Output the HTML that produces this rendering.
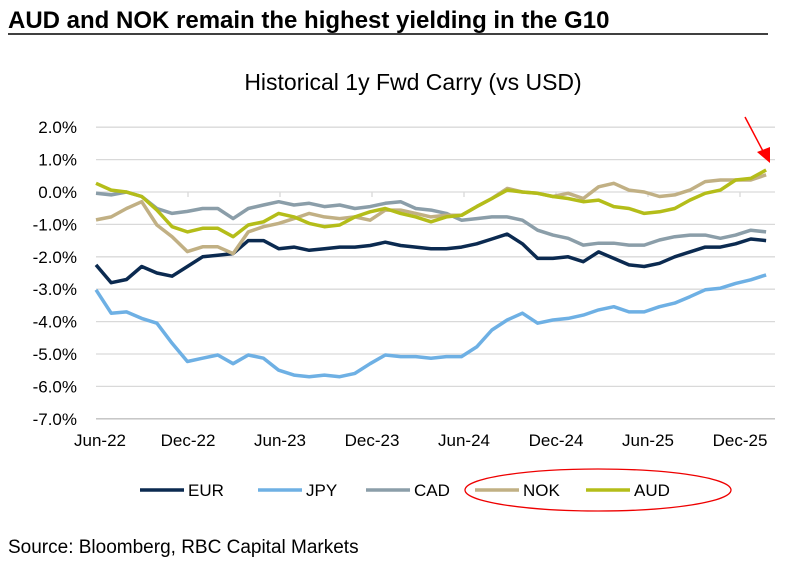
<!DOCTYPE html>
<html><head><meta charset="utf-8"><style>
body{margin:0;background:#fff;width:790px;height:571px;overflow:hidden;font-family:"Liberation Sans",Arial,sans-serif}
</style></head><body>
<svg width="790" height="571" xmlns="http://www.w3.org/2000/svg" id="svg" font-family="Liberation Sans, Arial, sans-serif">
<text x="8" y="28" font-size="24" font-weight="bold" fill="#000">AUD and NOK remain the highest yielding in the G10</text>
<line x1="8" y1="34" x2="768" y2="34" stroke="#000" stroke-width="1.5"/>
<text x="413" y="90" font-size="23" text-anchor="middle" fill="#000">Historical 1y Fwd Carry (vs USD)</text>
<g id="grid"></g>
<g id="ylab"></g>
<g id="xlab"></g>
<g id="series"></g>
<g>
<line x1="745" y1="117" x2="765" y2="155" stroke="#f00" stroke-width="1.5"/>
<polygon points="757,152 770,163 770,147" fill="#f00"/>
</g>
<g id="legend"></g>
<ellipse cx="598" cy="490" rx="133" ry="21" fill="none" stroke="#e00" stroke-width="1.3"/>
<text x="8" y="553" font-size="19" fill="#000">Source: Bloomberg, RBC Capital Markets</text>
</svg>
<script>
const yTicks=[2,1,0,-1,-2,-3,-4,-5,-6,-7];
const xTickLabels=["Jun-22","Dec-22","Jun-23","Dec-23","Jun-24","Dec-24","Jun-25","Dec-25"];
const seriesNames=["EUR","JPY","CAD","NOK","AUD"];
const eur=[-2.25,-2.8,-2.7,-2.3,-2.5,-2.6,-2.3,-2.0,-1.95,-1.9,-1.5,-1.5,-1.75,-1.7,-1.8,-1.75,-1.7,-1.7,-1.65,-1.55,-1.65,-1.7,-1.75,-1.75,-1.7,-1.6,-1.45,-1.3,-1.6,-2.05,-2.05,-2.0,-2.15,-1.85,-2.05,-2.25,-2.3,-2.2,-2.0,-1.85,-1.7,-1.7,-1.6,-1.45,-1.5];
const jpy=[-3.02,-3.74,-3.7,-3.9,-4.05,-4.67,-5.23,-5.13,-5.03,-5.3,-5.03,-5.13,-5.5,-5.65,-5.7,-5.65,-5.7,-5.6,-5.3,-5.03,-5.08,-5.08,-5.13,-5.08,-5.08,-4.78,-4.26,-3.95,-3.74,-4.05,-3.95,-3.9,-3.8,-3.64,-3.54,-3.7,-3.7,-3.54,-3.43,-3.23,-3.02,-2.97,-2.82,-2.71,-2.56];
const cad=[-0.04,-0.09,0.0,-0.14,-0.51,-0.66,-0.6,-0.51,-0.51,-0.82,-0.51,-0.4,-0.3,-0.4,-0.35,-0.45,-0.4,-0.51,-0.45,-0.35,-0.3,-0.51,-0.56,-0.66,-0.87,-0.82,-0.77,-0.77,-0.87,-1.18,-1.33,-1.43,-1.64,-1.58,-1.58,-1.64,-1.64,-1.48,-1.38,-1.33,-1.33,-1.43,-1.33,-1.18,-1.23];
const nok=[-0.86,-0.77,-0.51,-0.3,-1.02,-1.38,-1.84,-1.69,-1.69,-1.9,-1.23,-1.07,-0.97,-0.82,-0.66,-0.77,-0.82,-0.77,-0.87,-0.56,-0.56,-0.66,-0.77,-0.72,-0.72,-0.45,-0.2,0.11,0.0,-0.04,-0.14,-0.04,-0.2,0.16,0.27,0.06,0.0,-0.14,-0.09,0.06,0.32,0.37,0.37,0.37,0.53];
const aud=[0.27,0.06,0.0,-0.14,-0.56,-1.07,-1.23,-1.12,-1.12,-1.38,-1.02,-0.92,-0.66,-0.77,-0.97,-1.07,-1.02,-0.77,-0.61,-0.51,-0.66,-0.77,-0.92,-0.77,-0.72,-0.45,-0.2,0.06,0.0,-0.04,-0.14,-0.2,-0.3,-0.25,-0.45,-0.51,-0.66,-0.61,-0.51,-0.25,-0.04,0.06,0.37,0.42,0.68];
const colors=["#0b2a50","#6eb0e4","#8b9ea9","#c1b084","#b4bd19"];
const NS="http://www.w3.org/2000/svg";
const X0=96,X1=775,YT=127.2,STEP=32.4;
function xScale(m){return X0+m*(92/6);}
function yScale(v){return YT+(2-v)*STEP;}
function mk(tag,attrs,parent){const e=document.createElementNS(NS,tag);for(const k in attrs)e.setAttribute(k,attrs[k]);parent.appendChild(e);return e;}
const grid=document.getElementById('grid'),ylab=document.getElementById('ylab'),xlab=document.getElementById('xlab');
yTicks.forEach(t=>{
  const y=yScale(t);
  const l=mk('line',{x1:X0,x2:X1,y1:y,y2:y,stroke:t===-7?'#bfbfbf':'#d9d9d9','stroke-width':1.3},grid);
  
  
  const tx=mk('text',{x:77,y:y+6,'font-size':17,'text-anchor':'end',fill:'#000'},ylab);
  tx.textContent=t.toFixed(1)+'%';
  
  
});
xTickLabels.forEach((s,i)=>{
  const x=xScale(i*6);
  if(i>0){const tk=mk('line',{x1:x,x2:x,y1:yScale(0),y2:yScale(0)+5,stroke:'#d9d9d9','stroke-width':1.3},grid);
  
  }
  const tx=mk('text',{x:x+(i===0?4:0),y:446,'font-size':17,'text-anchor':'middle',fill:'#000'},xlab);
  tx.textContent=s;
  
  
});
const all=[eur,jpy,cad,nok,aud];
const ser=document.getElementById('series');
all.forEach((arr,si)=>{
  const d=arr.map((v,i)=>(i?'L':'M')+xScale(i*(43.7/44)).toFixed(1)+','+yScale(v).toFixed(1)).join(' ');
  const p=mk('path',{d:d,fill:'none',stroke:colors[si],'stroke-width':3.5,'stroke-linejoin':'round'},ser);
  
  
});
const lg=document.getElementById('legend');
const lx=[140,258,366,475,586];
seriesNames.forEach((n,i)=>{
  const l=mk('line',{x1:lx[i],x2:lx[i]+44,y1:490,y2:490,stroke:colors[i],'stroke-width':3.5},lg);
  
  
  const t=mk('text',{x:lx[i]+48,y:496,'font-size':17,fill:'#000'},lg);
  t.textContent=n;
  
  
});
</script>
</body></html>
